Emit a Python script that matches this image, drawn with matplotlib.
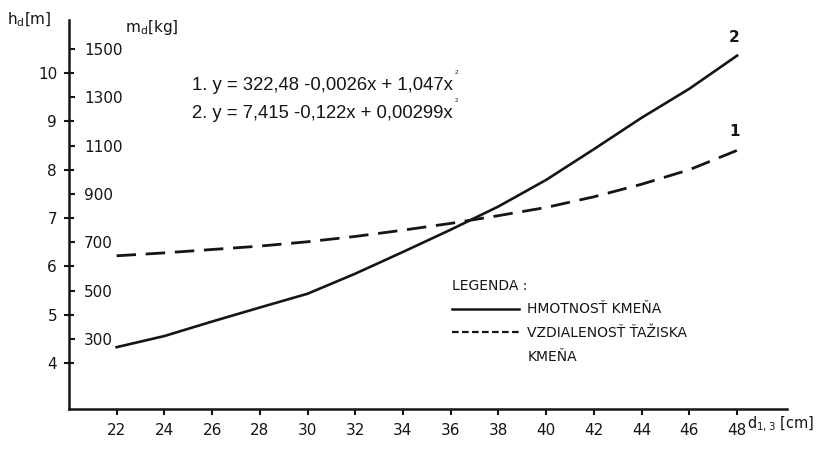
import matplotlib
matplotlib.use('Agg')
import matplotlib.pyplot as plt
from matplotlib.lines import Line2D

# values
d = [22, 24, 26, 28, 30, 32, 34, 36, 38, 40, 42, 44, 46, 48]
mass_kg = [266, 312, 372, 430, 487, 570, 660, 752, 848, 958, 1085, 1215, 1335, 1472]
height_m = [6.22, 6.28, 6.35, 6.42, 6.51, 6.62, 6.75, 6.89, 7.05, 7.22, 7.44, 7.70, 8.00, 8.40]

h_ticks = [4, 5, 6, 7, 8, 9, 10]
m_ticks = [300, 500, 700, 900, 1100, 1300, 1500]
x_ticks = list(range(22, 49, 2))

equations = ["1. y = 322,48 -0,0026x + 1,047x", "2. y = 7,415 -0,122x + 0,00299x"]

ink = '#151515'
plt.rcParams['font.family'] = ['DejaVu Sans']

fig = plt.figure(figsize=(8.2, 4.51), dpi=100)
ax = fig.add_axes([0.084, 0.093, 0.876, 0.863])
ax2 = ax.twinx()

h_lo, h_hi = 3.05, 11.1
ax.set_ylim(h_lo, h_hi)
# mass axis shares the same pixels: m = 200*h - 600
ax2.set_ylim(200 * h_lo - 600, 200 * h_hi - 600)
ax.set_xlim(20.0, 50.1)

# curves
ax.plot(d, height_m, color=ink, lw=2.0, dashes=(7, 3.5))
ax2.plot(d, mass_kg, color=ink, lw=1.9)

ax2.annotate('2', (d[-1], mass_kg[-1]), xytext=(-2, 8), textcoords='offset points',
             ha='center', va='bottom', fontsize=11, color=ink, fontweight='bold')
ax.annotate('1', (d[-1], height_m[-1]), xytext=(-2, 8), textcoords='offset points',
            ha='center', va='bottom', fontsize=11, color=ink, fontweight='bold')

# spines
for s in ['top', 'right']:
    ax.spines[s].set_visible(False)
for s in ['top', 'right', 'left', 'bottom']:
    ax2.spines[s].set_visible(False)
ax.spines['left'].set_linewidth(1.8)
ax.spines['bottom'].set_linewidth(1.8)
ax.spines['left'].set_color(ink)
ax.spines['bottom'].set_color(ink)

# h axis (left of spine)
ax.set_yticks(h_ticks)
ax.tick_params(axis='y', direction='inout', length=7, width=1.5, pad=5,
               labelsize=11, colors=ink)

# mass axis (labels inside, right of spine)
ax2.yaxis.set_ticks_position('left')
ax2.yaxis.set_label_position('left')
ax2.set_yticks(m_ticks)
ax2.tick_params(axis='y', direction='in', length=4, width=1.5, pad=-11,
                labelsize=11, colors=ink, labelleft=True, labelright=False)
for lbl in ax2.get_yticklabels():
    lbl.set_horizontalalignment('left')

# x axis
ax.set_xticks(x_ticks)
ax.tick_params(axis='x', direction='out', length=4, width=1.5, pad=6,
               labelsize=11, colors=ink)

# axis titles
fig.text(0.008, 0.955, r'h$_\mathregular{d}$[m]', fontsize=11, color=ink, va='center')
fig.text(0.152, 0.94, r'm$_\mathregular{d}$[kg]', fontsize=11, color=ink, va='center')
fig.text(0.993, 0.058, r'd$_\mathregular{1,3}$ [cm]', fontsize=10.5, color=ink,
         va='center', ha='right')

# regression equations
eq_font = ['Liberation Sans', 'DejaVu Sans']
for i, eq in enumerate(equations):
    y = 0.832 - i * 0.072
    t = ax.text(0.172, y, eq, transform=ax.transAxes, fontsize=13.3, family=eq_font,
                color=ink, va='center')
    ax.annotate('2', xy=(1, 1), xycoords=t, xytext=(1, 1), textcoords='offset points',
                fontsize=4.5, family=eq_font, color=ink, ha='left', va='bottom')

# legend
handles = [Line2D([], [], color=ink, lw=1.8),
           Line2D([], [], color=ink, lw=1.6, dashes=(3, 1.5)),
           Line2D([], [], color='none')]
labels = ['HMOTNOSŤ KMEŇA', 'VZDIALENOSŤ ŤAŽISKA', 'KMEŇA']
leg = ax.legend(handles, labels, title='LEGENDA :', loc='upper left',
                bbox_to_anchor=(0.52, 0.36), frameon=False, fontsize=10,
                title_fontsize=10, handlelength=4.8, handletextpad=0.6,
                labelspacing=0.7, alignment='left', borderpad=0.2)
for txt in leg.get_texts():
    txt.set_color(ink)
leg.get_title().set_color(ink)

fig.savefig('out.png', dpi=100)
plt.close(fig)
